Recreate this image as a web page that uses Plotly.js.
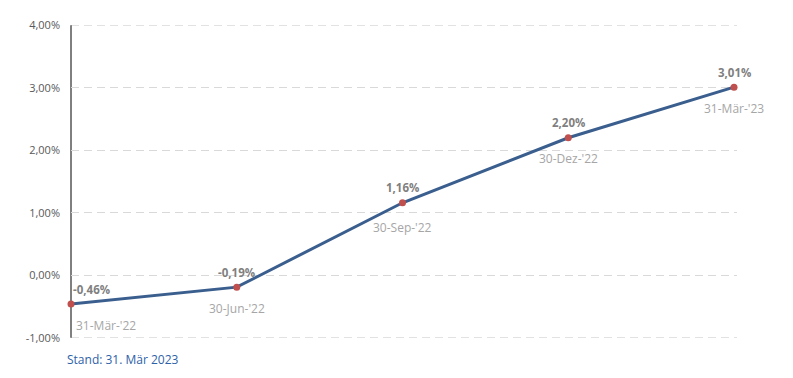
<!DOCTYPE html>
<html>
<head>
<meta charset="utf-8">
<script src="https://cdn.plot.ly/plotly-3.0.1.min.js"></script>
<style>html,body{margin:0;padding:0;background:#fff;}#chart{width:793px;height:378px;}</style>
</head>
<body>
<div id="chart"></div>
<script>
const dates = ["31-Mär-'22", "30-Jun-'22", "30-Sep-'22", "30-Dez-'22", "31-Mär-'23"];
const values = [-0.46, -0.19, 1.16, 2.20, 3.01];
const valueLabels = ["-0,46%", "-0,19%", "1,16%", "2,20%", "3,01%"];
const yTickVals = [-1, 0, 1, 2, 3, 4];
const yTickText = ["-1,00%", "0,00%", "1,00%", "2,00%", "3,00%", "4,00%"];
const footnote = "Stand: 31. Mär 2023";

const xIdx = dates.map((d, i) => i);
const font = "Open Sans, Liberation Sans, sans-serif";
const yMin = yTickVals[0], yMax = yTickVals[yTickVals.length - 1];

const trace = {
  x: xIdx, y: values, mode: 'lines+markers', type: 'scatter',
  line: {color: '#3a5e8e', width: 3},
  marker: {color: '#c0504d', size: 7},
  hoverinfo: 'skip', cliponaxis: false
};

const annotations = [];
xIdx.forEach((x, i) => {
  const first = i === 0;
  annotations.push({
    x: x, y: values[i], xref: 'x', yref: 'y', text: '<b>' + valueLabels[i] + '</b>',
    showarrow: false, font: {family: font, size: 11.5, color: '#7f7f7f'},
    xanchor: first ? 'left' : 'center', yanchor: 'middle', yshift: 15
  });
  annotations.push({
    x: x, y: values[i], xref: 'x', yref: 'y', text: dates[i],
    showarrow: false, font: {family: font, size: 12, color: '#a6a6a6'},
    xanchor: first ? 'left' : 'center', yanchor: 'middle', yshift: i === 2 ? -25 : -21, xshift: first ? 3 : 0
  });
});
annotations.push({
  xref: 'paper', yref: 'paper', x: -0.009, y: -0.035, xanchor: 'left', yanchor: 'top',
  text: footnote, showarrow: false, font: {family: font, size: 12, color: '#2e62a8'}
});

const gridStyle = {color: '#d9d9d9', width: 1, dash: '8px,5px'};
const layout = {
  width: 793, height: 378,
  margin: {l: 71, r: 56, t: 25, b: 40},
  paper_bgcolor: '#fff', plot_bgcolor: '#fff',
  showlegend: false,
  xaxis: {range: [0, 4.018], showgrid: false, zeroline: false, showticklabels: false, showline: false, fixedrange: true},
  yaxis: {
    range: [yMin - 0.004, yMax + 0.004], tickvals: yTickVals, ticktext: yTickText,
    showgrid: true, gridcolor: '#d9d9d9', griddash: '8px,5px', gridwidth: 1,
    zeroline: false, showline: false,
    ticks: '', tickfont: {family: font, size: 11, color: '#595959'}, ticklabelstandoff: 10
  },
  shapes: [
    {type: 'line', xref: 'paper', yref: 'y', x0: 0, x1: 1, y0: yMax, y1: yMax, line: gridStyle, layer: 'below'},
    {type: 'line', xref: 'paper', yref: 'y', x0: 0, x1: 1, y0: yMin, y1: yMin, line: gridStyle, layer: 'below'},
    {type: 'line', xref: 'paper', yref: 'y', x0: 0, x1: 0, y0: yMin, y1: yMax, line: {color: '#000', width: 1}, layer: 'below'}
  ],
  annotations: annotations
};

Plotly.newPlot('chart', [trace], layout, {displayModeBar: false, staticPlot: true});
</script>
</body>
</html>
